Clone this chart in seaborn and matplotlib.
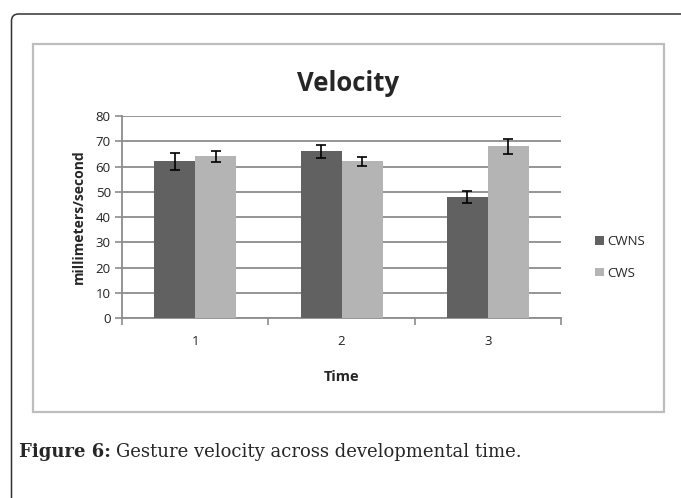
import matplotlib
matplotlib.use("Agg")
import matplotlib.pyplot as plt
from matplotlib.patches import FancyBboxPatch, Rectangle
import seaborn as sns
import pandas as pd

# values
times = ["1", "2", "3"]
groups = ["CWNS", "CWS"]
cwns = [62, 66, 48]
cws = [64, 62, 68]
cwns_err = [3.2, 2.6, 2.5]
cws_err = [2.3, 1.8, 2.9]
y_ticks = [0, 10, 20, 30, 40, 50, 60, 70, 80]

sns.set_theme(style="white")
plt.rcParams["font.family"] = ["Open Sans", "DejaVu Sans"]

df = pd.DataFrame({
    "Time": times * 2,
    "Group": [groups[0]] * 3 + [groups[1]] * 3,
    "Velocity": cwns + cws,
})
errs = cwns_err + cws_err

fig = plt.figure(figsize=(6.81, 4.98), dpi=100)

# outer rounded frame of the page and the gray chart box
fig.patches.append(FancyBboxPatch((0.115, -0.5), 7.5, 5.34,
                                  boxstyle="round,pad=0,rounding_size=0.07",
                                  transform=fig.dpi_scale_trans, fill=False,
                                  edgecolor="#333333", linewidth=1.1))
fig.patches.append(Rectangle((0.33, 0.86), 6.31, 3.68, transform=fig.dpi_scale_trans,
                             fill=False, edgecolor="#bdbdbd", linewidth=1.6))

ax = fig.add_axes([0.179, 0.3614, 0.645, 0.4056])
palette = {"CWNS": "#616161", "CWS": "#b4b4b4"}
sns.barplot(data=df, x="Time", y="Velocity", hue="Group", palette=palette,
            width=0.56, gap=0, errorbar=None, saturation=1, linewidth=0,
            ax=ax, zorder=3)

# error bars from the named arrays, placed on the drawn bars
bars = [p for p in ax.patches if p.get_height() > 0]
for p, e in zip(bars, errs):
    xc = p.get_x() + p.get_width() / 2
    ax.errorbar(xc, p.get_height(), yerr=e, color="black", capsize=3.5,
                elinewidth=1.2, capthick=1.2, zorder=4)

ax.set_ylim(0, 80)
ax.set_xlim(-0.5, 2.5)
ax.set_yticks(y_ticks)
ax.yaxis.grid(True, color="#8c8c8c", linewidth=1.3, zorder=0)
ax.set_axisbelow(True)
for s in ["top", "right"]:
    ax.spines[s].set_visible(False)
for s in ["left", "bottom"]:
    ax.spines[s].set_color("#8c8c8c")
    ax.spines[s].set_linewidth(1.3)

ax.tick_params(axis="y", which="major", direction="out", length=5, width=1.2,
               color="#8c8c8c", left=True, labelsize=9.5, pad=3,
               labelcolor="#222222")
ax.tick_params(axis="x", which="major", length=0, labelsize=9.5, pad=12,
               labelcolor="#222222")
ax.set_xticks([-0.5, 0.5, 1.5, 2.5], minor=True)
ax.tick_params(axis="x", which="minor", direction="out", length=5, width=1.2,
               color="#8c8c8c", bottom=True)

ax.set_ylabel("millimeters/second", fontsize=10, fontweight="bold", labelpad=7)
ax.set_xlabel("Time", fontsize=10.5, fontweight="bold", labelpad=16)
ax.set_title("Velocity", fontsize=18.5, fontweight="bold", pad=18, x=0.515)

handles, labels = ax.get_legend_handles_labels()
ax.legend(handles, labels, loc="center left", bbox_to_anchor=(1.05, 0.3),
          frameon=False, fontsize=9.5, handlelength=0.65, handleheight=0.65,
          handletextpad=0.3, labelspacing=1.4)

# caption: bold label, then the rest placed right after it
serif = ["DejaVu Serif", "Liberation Serif"]
lab = fig.text(0.028, 0.092, "Figure 6:", fontsize=13, fontweight="bold",
               family=serif, va="center")
renderer = fig.canvas.get_renderer()
bb = lab.get_window_extent(renderer=renderer)
x_next = (bb.x1 + 5) / fig.bbox.width
fig.text(x_next, 0.092, "Gesture velocity across developmental time.", fontsize=13,
         family=serif, va="center")

fig.savefig("out.png", dpi=100)
